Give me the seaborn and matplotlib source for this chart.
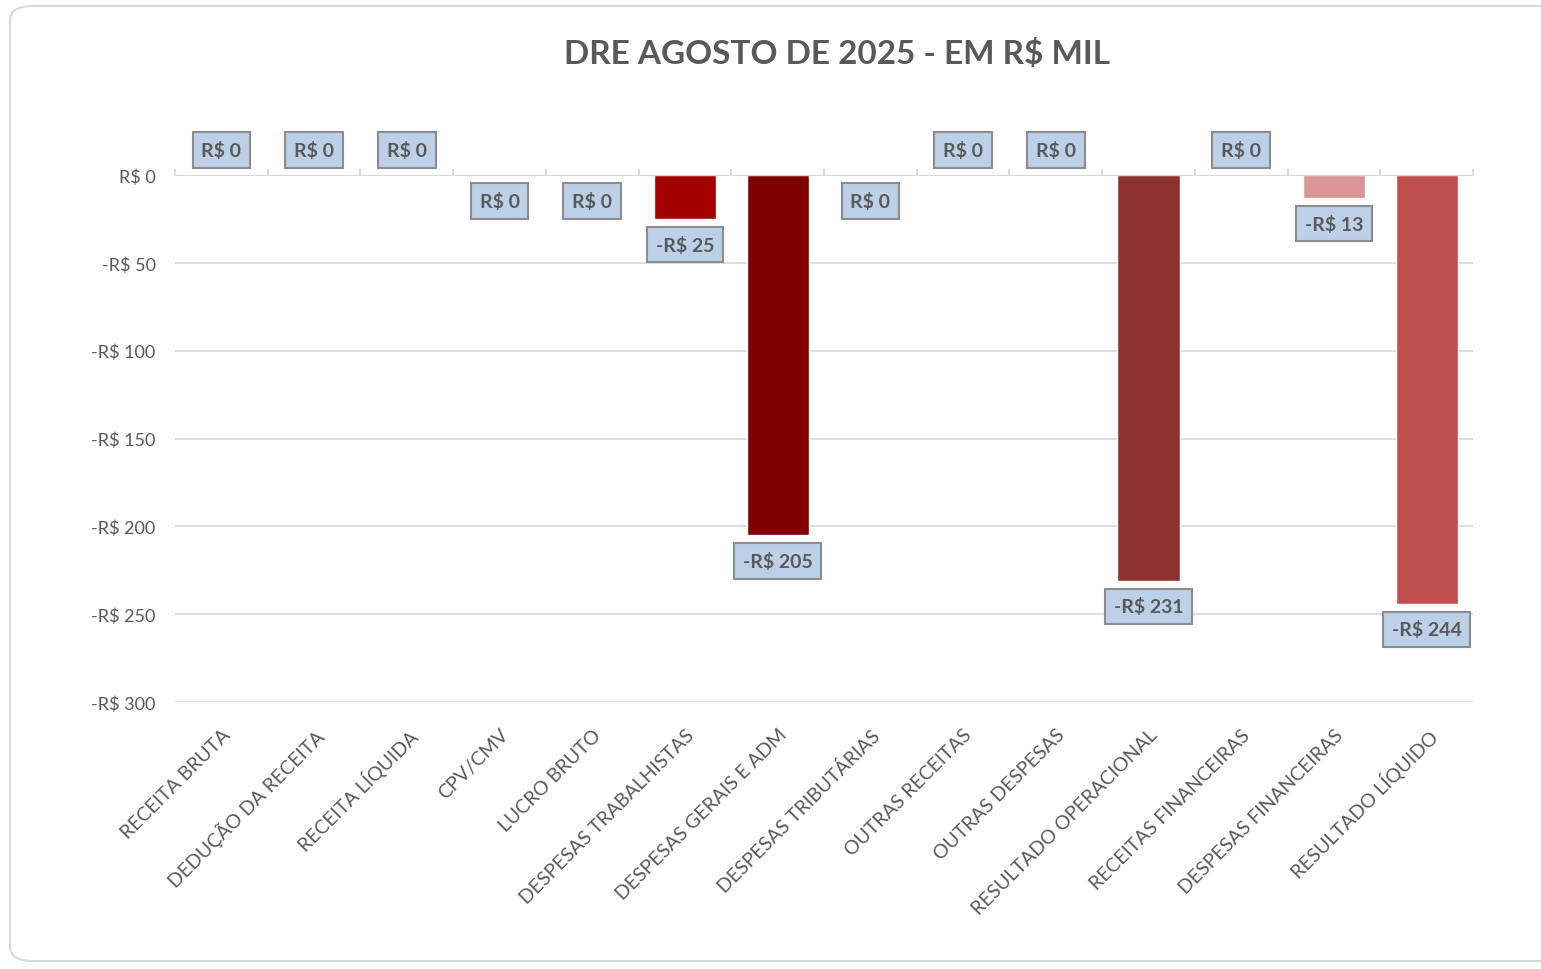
import matplotlib
matplotlib.use("Agg")
import matplotlib.pyplot as plt
import seaborn as sns
import pandas as pd
from matplotlib.patches import FancyBboxPatch

categories = ["RECEITA BRUTA", "DEDUÇÃO DA RECEITA", "RECEITA LÍQUIDA", "CPV/CMV",
              "LUCRO BRUTO", "DESPESAS TRABALHISTAS", "DESPESAS GERAIS E ADM",
              "DESPESAS TRIBUTÁRIAS", "OUTRAS RECEITAS", "OUTRAS DESPESAS",
              "RESULTADO OPERACIONAL", "RECEITAS FINANCEIRAS", "DESPESAS FINANCEIRAS",
              "RESULTADO LÍQUIDO"]
values = [0, 0, 0, -0.3, -0.3, -25, -205, -0.2, 0, 0, -231, 0, -13, -244]
colors = ["#4F81BD", "#4F81BD", "#4F81BD", "#A50000", "#A50000", "#A50000", "#800000",
          "#A50000", "#4F81BD", "#4F81BD", "#8C3330", "#4F81BD", "#D99694", "#C0504D"]
yticks = [0, -50, -100, -150, -200, -250, -300]

sns.set_theme(style="white")
plt.rcParams['font.family'] = ['Lato', 'DejaVu Sans']

TXT = "#595959"
fig = plt.figure(figsize=(15.41, 9.70), dpi=100)
ax = fig.add_axes([175/1541, (970-703)/970, (1473-175)/1541, (703-176)/970])

# outer frame
frame = FancyBboxPatch((10/1541, 8/970), 1.05, 955/970,
                       boxstyle="round,pad=0,rounding_size=0.015",
                       transform=fig.transFigure, facecolor="white",
                       edgecolor="#D9D9D9", linewidth=1.5, zorder=-10)
fig.patches.append(frame)

df = pd.DataFrame({"cat": categories, "val": values})
sns.barplot(data=df, x="cat", y="val", hue="cat", palette=colors, width=0.67,
            legend=False, ax=ax, saturation=1, zorder=3)

ax.set_ylim(-300, 0)
ax.set_xlim(-0.5, len(categories) - 0.5)
ax.set_yticks(yticks)
ax.set_yticklabels([("-R$ %d" % abs(v)) if v < 0 else "R$ %d" % v for v in yticks],
                   fontsize=13, color=TXT)
for y in yticks[1:]:
    ax.axhline(y, color="#D9D9D9", lw=1.2, zorder=1)
ax.axhline(0, color="#D9D9D9", lw=1.5, zorder=4)
ax.vlines([i - 0.5 for i in range(len(categories) + 1)], 0, 3.5,
          color="#D9D9D9", lw=1.5, clip_on=False, zorder=4)
for s in ax.spines.values():
    s.set_visible(False)
ax.tick_params(axis="y", length=0, pad=14)
ax.tick_params(axis="x", length=0, pad=17)
ax.set_xticks(range(len(categories)))
ax.set_xticklabels(categories, rotation=45, ha="right", rotation_mode="anchor",
                   fontsize=14, color=TXT)
ax.set_xlabel("")
ax.set_ylabel("")

for i, v in enumerate(values):
    r = int(round(v))
    txt = ("-R$ %d" % abs(r)) if r < 0 else "R$ %d" % r
    if v >= 0:
        off, va = 11.5, "bottom"
    else:
        off, va = -12, "top"
    ax.annotate(txt, (i, v), xytext=(0, off), textcoords="offset points",
                ha="center", va=va, fontsize=14, fontweight="bold", color=TXT,
                annotation_clip=False, zorder=6,
                bbox=dict(boxstyle="square,pad=0.45", facecolor="#BCD0E8",
                          edgecolor="#8C8C8C", linewidth=1.5))

fig.text(837/1541, 1 - 54/970, "DRE AGOSTO DE 2025 - EM R$ MIL", ha="center",
         va="center", fontsize=24, fontweight="bold", color=TXT)

fig.savefig("out.png", dpi=100)
